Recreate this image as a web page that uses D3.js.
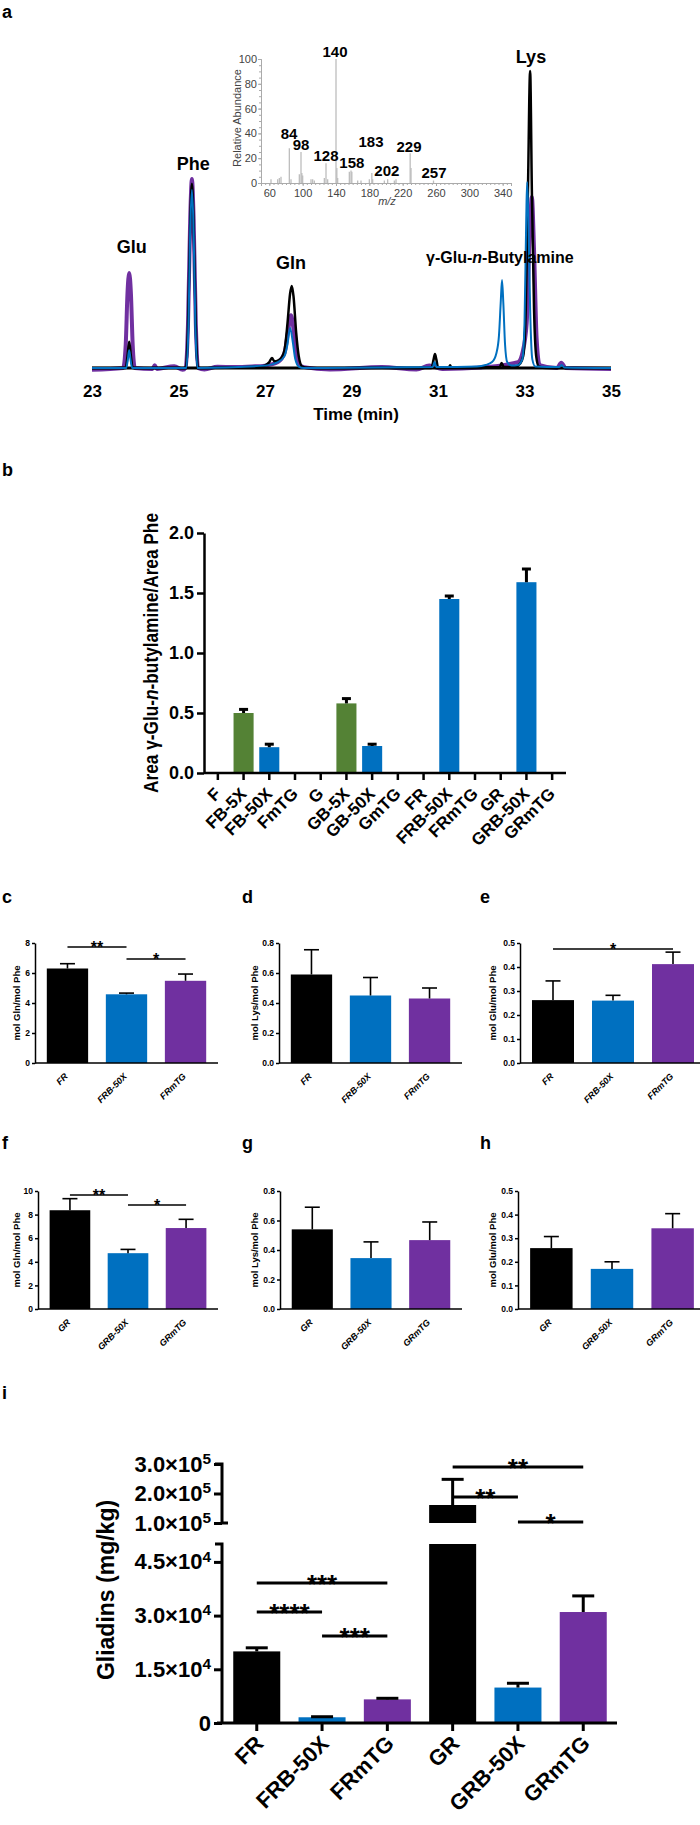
<!DOCTYPE html>
<html>
<head>
<meta charset="utf-8">
<script src="https://cdnjs.cloudflare.com/ajax/libs/d3/7.8.5/d3.min.js"></script>
<style>
  body { margin: 0; background: #fff; }
  svg { display: block; font-family: "Liberation Sans", Arial, sans-serif; font-weight: bold; }
</style>
</head>
<body>
<script>
var cBlack = '#000', cBlue = '#0070c0', cPurple = '#7030a0', cGreen = '#548235';

// ---- panel a: chromatogram, [time (min), relative intensity]
var traceBlack = [[23,0],[23.78,0],[23.82,4],[23.86,8.8],[23.9,4],[23.94,0],[25.17,0],[25.22,14],[25.27,48],[25.31,62],[25.35,48],[25.4,14],[25.45,0],
  [26.9,0.5],[27.1,2],[27.16,3.4],[27.22,2.2],[27.35,3],[27.45,6],[27.52,15],[27.58,25],[27.62,27.6],[27.66,24],[27.72,12],[27.78,4],[27.86,0.5],[28.0,0],
  [30.85,0],[30.9,3],[30.93,4.7],[30.96,3],[31.0,0.3],[31.25,0.2],[31.28,0.9],[31.31,0.2],[32.43,0.3],[32.47,1.7],[32.52,0.3],
  [32.8,0.5],[32.9,1.5],[32.97,4],[33.03,20],[33.08,60],[33.13,100],[33.17,60],[33.22,20],[33.27,4],[33.33,0.5],[33.5,0],[35,0]];
var tracePurple = [[23,-0.6],[23.72,0],[23.78,8],[23.82,25],[23.86,32],[23.9,25],[23.94,8],[23.99,0],[24.4,-0.3],[24.45,0.9],[24.5,-0.3],[24.9,0.6],[25.1,-0.6],
  [25.16,0],[25.22,15],[25.27,50],[25.31,63.6],[25.35,50],[25.4,15],[25.45,0],[25.6,-0.5],[25.9,0.4],[26.3,0.3],[26.7,0.5],
  [27.0,0.8],[27.3,2],[27.45,5],[27.53,12],[27.6,17.8],[27.66,13],[27.72,5],[27.8,1],[27.9,0.3],[28.5,-0.5],[29.7,0.3],[30.5,-0.5],[30.8,0.8],[31.1,-0.3],
  [32.0,0.2],[32.85,2],[32.95,5],[33.05,15],[33.12,45],[33.17,57.6],[33.22,40],[33.28,10],[33.35,1],[33.75,0],[33.85,1.8],[33.95,0],[35,-0.3]];
var traceBlue = [[23,0],[23.79,0],[23.83,3],[23.86,6],[23.89,3],[23.93,0],[25.18,0],[25.23,14],[25.27,46],[25.31,60],[25.35,46],[25.39,14],[25.44,0],
  [27.0,0.8],[27.3,2],[27.45,4],[27.52,8],[27.58,13.5],[27.64,9],[27.7,3],[27.78,0.5],[27.9,0],[30.88,0.3],[30.92,2],[30.96,0.3],
  [31.9,0.5],[32.1,1],[32.25,2],[32.35,5],[32.41,11],[32.45,22],[32.48,29.6],[32.51,22],[32.55,8],[32.6,2],[32.7,0.8],
  [32.85,1],[32.95,3],[33.0,15],[33.04,50],[33.06,62.6],[33.09,50],[33.13,20],[33.18,3],[33.25,0.5],[33.8,0.3],[33.86,1],[33.92,0.2],[35,0]];
var timeTicks = [23, 25, 27, 29, 31, 33, 35];
var peakNames = ['Glu', 'Phe', 'Gln', 'γ-Glu-n-Butylamine', 'Lys'];
var peakLabelTime = [23.92, 25.34, 27.6, 32.43, 33.15];
var peakLabelLevel = [40.7, 68.7, 35.4, 37.4, 104.7];

// inset mass spectrum
var ionMz = [62, 70, 72, 74, 84, 86, 96, 98, 99, 100, 110, 112, 114, 126, 128, 130, 140, 141, 142, 156, 158, 159, 166, 170, 180, 183, 184, 198, 202, 210, 212, 229, 230, 257];
var ionAbund = [3, 3, 4, 5, 28, 3, 7, 25, 8, 6, 3, 3, 2, 4, 16, 3, 100, 12, 4, 9, 10, 9, 2, 2, 3, 8, 3, 2, 3, 2, 3, 24, 12, 2];
var ionLabels = ['140', '84', '98', '128', '158', '183', '202', '229', '257'];
var ionLabelMz = [138.8, 83.6, 98, 128, 159, 182, 201, 227.6, 257.6];
var ionLabelAb = [105.6, 40, 30.6, 21.8, 16, 33, 9.7, 29, 8];

// ---- panel b
var bCats = ['F', 'FB-5X', 'FB-50X', 'FmTG', 'G', 'GB-5X', 'GB-50X', 'GmTG', 'FR', 'FRB-50X', 'FRmTG', 'GR', 'GRB-50X', 'GRmTG'];
var bVals = [0, 0.50, 0.215, 0, 0, 0.58, 0.225, 0, 0, 1.45, 0, 0, 1.59, 0];
var bErr = [0, 0.03, 0.025, 0, 0, 0.04, 0.015, 0, 0, 0.025, 0, 0, 0.11, 0];
var bTicks = [0, 0.5, 1.0, 1.5, 2.0];

// ---- panels c-h
var frCats = ['FR', 'FRB-50X', 'FRmTG'];
var grCats = ['GR', 'GRB-50X', 'GRmTG'];
var glnFR = [6.3, 4.58, 5.48], glnFRErr = [0.32, 0.08, 0.45];
var lysFR = [0.59, 0.45, 0.43], lysFRErr = [0.165, 0.12, 0.07];
var gluFR = [0.262, 0.26, 0.412], gluFRErr = [0.08, 0.022, 0.05];
var glnGR = [8.37, 4.73, 6.86], glnGRErr = [0.98, 0.32, 0.74];
var lysGR = [0.54, 0.345, 0.467], lysGRErr = [0.15, 0.11, 0.123];
var gluGR = [0.258, 0.17, 0.342], gluGRErr = [0.049, 0.03, 0.062];
var tripletColors = [cBlack, cBlue, cPurple];

// ---- panel i
var iCats = ['FR', 'FRB-50X', 'FRmTG', 'GR', 'GRB-50X', 'GRmTG'];
var iVals = [20000, 1600, 6600, 161000, 9900, 31000];
var iErr = [1000, 150, 300, 87000, 1200, 4500];
var iColors = [cBlack, cBlue, cPurple, cBlack, cBlue, cPurple];
var iLowTicks = [0, 15000, 30000, 45000];
var iHighTicks = [100000, 200000, 300000];
// significance bars: [from index, to index, height, stars]
var iSig = [[0, 2, 39100, '***'], [0, 1, 31000, '****'], [1, 2, 24300, '***'], [3, 5, 290000, '**'], [3, 4, 188000, '**'], [4, 5, 103000, '*']];

var svg = d3.select('body').append('svg').attr('width', 700).attr('height', 1825);

function letter(t, x, y) {
  svg.append('text').attr('x', x).attr('y', y).attr('font-size', 18).text(t);
}

// ================= panel a =================
letter('a', 2, 18);
var xA = d3.scaleLinear().domain([23, 35]).range([92, 611]);
var yA = d3.scaleLinear().domain([0, 100]).range([368, 71]);
var lineA = d3.line().x(function (d) { return xA(d[0]); }).y(function (d) { return yA(d[1]); }).curve(d3.curveMonotoneX);

var gA = svg.append('g');
gA.append('path').datum(tracePurple).attr('d', lineA).attr('fill', 'none').attr('stroke', cPurple).attr('stroke-width', 4).attr('stroke-linejoin', 'round');
gA.append('path').datum([[23, 0], [35, 0]]).attr('d', lineA).attr('stroke', cBlack).attr('stroke-width', 3);
gA.append('path').datum(traceBlack).attr('d', lineA).attr('fill', 'none').attr('stroke', cBlack).attr('stroke-width', 2.5).attr('stroke-linejoin', 'round');
gA.append('path').datum(traceBlue).attr('d', lineA).attr('fill', 'none').attr('stroke', cBlue).attr('stroke-width', 2).attr('stroke-linejoin', 'round');

var axA = svg.append('g').attr('transform', 'translate(0,368)')
  .call(d3.axisBottom(xA).tickValues(timeTicks).tickSize(0).tickPadding(17));
axA.select('.domain').remove();
axA.selectAll('text').attr('font-size', 17).attr('font-weight', 'bold').attr('font-family', null);
svg.append('text').attr('x', 356).attr('y', 420).attr('text-anchor', 'middle').attr('font-size', 17).text('Time (min)');

peakNames.forEach(function (n, i) {
  var t = svg.append('text').attr('x', xA(peakLabelTime[i])).attr('y', yA(peakLabelLevel[i])).attr('dy', '0.35em')
    .attr('text-anchor', 'middle').attr('font-size', i === 3 ? 16 : 18);
  if (i === 3) {
    t.append('tspan').text('γ-Glu-');
    t.append('tspan').attr('font-style', 'italic').text('n');
    t.append('tspan').text('-Butylamine');
  } else {
    t.text(n);
  }
});

// inset spectrum
var xI = d3.scaleLinear().domain([50, 350]).range([261, 511]);
var yI = d3.scaleLinear().domain([0, 100]).range([183, 59]);
var gI = svg.append('g');
gI.selectAll('line.ion').data(ionMz).enter().append('line')
  .attr('x1', function (d) { return xI(d); }).attr('x2', function (d) { return xI(d); })
  .attr('y1', yI(0)).attr('y2', function (d, i) { return yI(ionAbund[i]); })
  .attr('stroke', '#bdbdbd').attr('stroke-width', 1.3);

function greyAxis(g) {
  g.select('.domain').attr('stroke', '#aaa');
  g.selectAll('.tick line').attr('stroke', '#aaa');
  g.selectAll('text').attr('font-size', 11).attr('font-weight', 'normal').attr('fill', '#444').attr('font-family', null);
}
var yIMinor = svg.append('g').attr('transform', 'translate(261,0)').call(d3.axisLeft(yI).tickValues(d3.range(0, 101, 5)).tickSize(2).tickFormat(''));
greyAxis(yIMinor);
var yIAx = svg.append('g').attr('transform', 'translate(261,0)').call(d3.axisLeft(yI).tickValues(d3.range(0, 101, 20)).tickSize(3).tickPadding(1));
greyAxis(yIAx);
var xIMinor = svg.append('g').attr('transform', 'translate(0,183)').call(d3.axisBottom(xI).tickValues(d3.range(50, 351, 5)).tickSize(2).tickFormat(''));
greyAxis(xIMinor);
var xIAx = svg.append('g').attr('transform', 'translate(0,183)').call(d3.axisBottom(xI).tickValues(d3.range(60, 341, 40)).tickSize(3).tickPadding(3));
greyAxis(xIAx);
svg.append('text').attr('x', 387).attr('y', 205).attr('text-anchor', 'middle').attr('font-size', 11)
  .attr('font-weight', 'normal').attr('font-style', 'italic').attr('fill', '#444').text('m/z');
svg.append('text').attr('transform', 'translate(241,118) rotate(-90)').attr('text-anchor', 'middle').attr('font-size', 11)
  .attr('font-weight', 'normal').attr('fill', '#444').text('Relative Abundance');
ionLabels.forEach(function (t, i) {
  svg.append('text').attr('x', xI(ionLabelMz[i])).attr('y', yI(ionLabelAb[i])).attr('dy', '0.35em')
    .attr('text-anchor', 'middle').attr('font-size', 15).text(t);
});

// ================= panel b =================
letter('b', 2, 476);
var xB = d3.scaleBand().domain(bCats).range([205, 565]).paddingInner(0.22).paddingOuter(0.11);
var yB = d3.scaleLinear().domain([0, 2]).range([773, 533]);
function bColor(c) { return /-5X/.test(c) ? cGreen : cBlue; }
var barsB = bCats.map(function (c, i) { return { c: c, v: bVals[i], e: bErr[i] }; }).filter(function (d) { return d.v > 0; });
svg.selectAll('rect.b').data(barsB).enter().append('rect')
  .attr('x', function (d) { return xB(d.c); }).attr('width', xB.bandwidth())
  .attr('y', function (d) { return yB(d.v); }).attr('height', function (d) { return yB(0) - yB(d.v); })
  .attr('fill', function (d) { return bColor(d.c); });
barsB.forEach(function (d) {
  var cx = xB(d.c) + xB.bandwidth() / 2;
  svg.append('line').attr('x1', cx).attr('x2', cx).attr('y1', yB(d.v)).attr('y2', yB(d.v + d.e)).attr('stroke', '#000').attr('stroke-width', 3);
  svg.append('line').attr('x1', cx - 4.5).attr('x2', cx + 4.5).attr('y1', yB(d.v + d.e)).attr('y2', yB(d.v + d.e)).attr('stroke', '#000').attr('stroke-width', 3);
});
var yBAx = svg.append('g').attr('transform', 'translate(204,0)')
  .call(d3.axisLeft(yB).tickValues(bTicks).tickFormat(d3.format('.1f')).tickSize(7).tickSizeOuter(0).tickPadding(3));
var xBAx = svg.append('g').attr('transform', 'translate(0,773)')
  .call(d3.axisBottom(xB).tickSize(7).tickSizeOuter(0).tickFormat(''));
xBAx.select('.domain').attr('d', 'M204,0H566');
[yBAx, xBAx].forEach(function (g) {
  g.selectAll('path, line').attr('stroke', '#000').attr('stroke-width', 2.5);
  g.selectAll('text').attr('font-size', 18).attr('font-weight', 'bold').attr('font-family', null).attr('fill', '#000');
});
bCats.forEach(function (c) {
  var x = xB(c) + xB.bandwidth() / 2 + 4;
  svg.append('text').attr('transform', 'translate(' + x + ',795) rotate(-45)').attr('text-anchor', 'end')
    .attr('font-size', 17).text(c);
});
var tb = svg.append('text').attr('transform', 'translate(158,653) rotate(-90)').attr('text-anchor', 'middle')
  .attr('font-size', 21).attr('textLength', 280).attr('lengthAdjust', 'spacingAndGlyphs');
tb.append('tspan').text('Area γ-Glu-');
tb.append('tspan').attr('font-style', 'italic').text('n');
tb.append('tspan').text('-butylamine/Area Phe');

// ================= panels c-h =================
function smallPanel(o) {
  var x = d3.scaleBand().domain(o.cats).range([o.x0, o.x1]).paddingInner(0.3).paddingOuter(0.2);
  var y = d3.scaleLinear().domain([0, o.max]).range([o.y0, o.y1]);
  var g = svg.append('g');
  g.selectAll('rect').data(o.vals).enter().append('rect')
    .attr('x', function (d, i) { return x(o.cats[i]); }).attr('width', x.bandwidth())
    .attr('y', function (d) { return y(d); }).attr('height', function (d) { return y(0) - y(d); })
    .attr('fill', function (d, i) { return tripletColors[i]; });
  o.vals.forEach(function (v, i) {
    var cx = x(o.cats[i]) + x.bandwidth() / 2, top = y(v + o.errs[i]);
    g.append('line').attr('x1', cx).attr('x2', cx).attr('y1', y(v)).attr('y2', top).attr('stroke', '#000').attr('stroke-width', 1.6);
    g.append('line').attr('x1', cx - 7.5).attr('x2', cx + 7.5).attr('y1', top).attr('y2', top).attr('stroke', '#000').attr('stroke-width', 1.6);
  });
  var ay = g.append('g').attr('transform', 'translate(' + o.x0 + ',0)')
    .call(d3.axisLeft(y).tickValues(o.ticks).tickFormat(d3.format(o.fmt)).tickSize(3).tickSizeOuter(0).tickPadding(2));
  ay.selectAll('path, line').attr('stroke', '#000').attr('stroke-width', 1.5);
  ay.selectAll('text').attr('font-size', 8.5).attr('font-weight', 'bold').attr('font-family', null).attr('fill', '#000');
  g.append('line').attr('x1', o.x0).attr('x2', o.x1).attr('y1', o.y0).attr('y2', o.y0).attr('stroke', '#000').attr('stroke-width', 1.5);
  o.cats.forEach(function (c) {
    var cx = x(c) + x.bandwidth() / 2 + 1;
    g.append('text').attr('transform', 'translate(' + cx + ',' + (o.y0 + 14) + ') rotate(-45)').attr('text-anchor', 'end')
      .attr('font-size', 9).attr('font-style', 'italic').text(c);
  });
  g.append('text').attr('transform', 'translate(' + o.lx + ',' + ((o.y0 + o.y1) / 2) + ') rotate(-90)')
    .attr('text-anchor', 'middle').attr('font-size', 9.5).text(o.label);
  (o.sig || []).forEach(function (s) {
    var xa = x(o.cats[s[0]]) + x.bandwidth() / 2, xb = x(o.cats[s[1]]) + x.bandwidth() / 2, yy = y(s[2]);
    g.append('line').attr('x1', xa).attr('x2', xb).attr('y1', yy).attr('y2', yy).attr('stroke', '#000').attr('stroke-width', 1.5);
    g.append('text').attr('x', (xa + xb) / 2).attr('y', yy + 6).attr('text-anchor', 'middle').attr('font-size', 16).text(s[3]);
  });
}

letter('c', 2, 903); letter('d', 242, 903); letter('e', 480, 903);
letter('f', 2, 1149); letter('g', 242, 1149); letter('h', 480, 1149);

smallPanel({ cats: frCats, vals: glnFR, errs: glnFRErr, x0: 35, x1: 218, y0: 1063, y1: 943, max: 8, ticks: [0, 2, 4, 6, 8], fmt: 'd',
  lx: 20, label: 'mol Gln/mol Phe', sig: [[0, 1, 7.73, '**'], [1, 2, 6.93, '*']] });
smallPanel({ cats: frCats, vals: lysFR, errs: lysFRErr, x0: 279, x1: 462, y0: 1063, y1: 943, max: 0.8, ticks: [0, 0.2, 0.4, 0.6, 0.8], fmt: '.1f',
  lx: 258, label: 'mol Lys/mol Phe' });
smallPanel({ cats: frCats, vals: gluFR, errs: gluFRErr, x0: 520, x1: 706, y0: 1063, y1: 943, max: 0.5, ticks: [0, 0.1, 0.2, 0.3, 0.4, 0.5], fmt: '.1f',
  lx: 496, label: 'mol Glu/mol Phe', sig: [[0, 2, 0.475, '*']] });
smallPanel({ cats: grCats, vals: glnGR, errs: glnGRErr, x0: 38, x1: 218, y0: 1309, y1: 1191, max: 10, ticks: [0, 2, 4, 6, 8, 10], fmt: 'd',
  lx: 20, label: 'mol Gln/mol Phe', sig: [[0, 1, 9.66, '**'], [1, 2, 8.81, '*']] });
smallPanel({ cats: grCats, vals: lysGR, errs: lysGRErr, x0: 280, x1: 462, y0: 1309, y1: 1191, max: 0.8, ticks: [0, 0.2, 0.4, 0.6, 0.8], fmt: '.1f',
  lx: 258, label: 'mol Lys/mol Phe' });
smallPanel({ cats: grCats, vals: gluGR, errs: gluGRErr, x0: 518, x1: 706, y0: 1309, y1: 1191, max: 0.5, ticks: [0, 0.1, 0.2, 0.3, 0.4, 0.5], fmt: '.1f',
  lx: 496, label: 'mol Glu/mol Phe' });

// ================= panel i =================
letter('i', 2, 1399);
var xI2 = d3.scaleBand().domain(iCats).range([223, 617]).paddingInner(0.28).paddingOuter(0.157);
var yLow = d3.scaleLinear().domain([0, 50000]).range([1723, 1544]);
var yHigh = d3.scaleLinear().domain([100000, 300000]).range([1523, 1464]);
function yAny(v) { return v <= 50000 ? yLow(v) : yHigh(v); }

iCats.forEach(function (c, i) {
  var x = xI2(c), w = xI2.bandwidth(), v = iVals[i];
  svg.append('rect').attr('x', x).attr('width', w).attr('y', yLow(Math.min(v, 50000))).attr('height', yLow(0) - yLow(Math.min(v, 50000)))
    .attr('fill', iColors[i]);
  if (v > 100000) {
    svg.append('rect').attr('x', x).attr('width', w).attr('y', yHigh(v)).attr('height', yHigh(100000) - yHigh(v)).attr('fill', iColors[i]);
  }
  var cx = x + w / 2, top = yAny(v + iErr[i]);
  svg.append('line').attr('x1', cx).attr('x2', cx).attr('y1', yAny(v)).attr('y2', top).attr('stroke', '#000').attr('stroke-width', 3);
  svg.append('line').attr('x1', cx - 11).attr('x2', cx + 11).attr('y1', top).attr('y2', top).attr('stroke', '#000').attr('stroke-width', 3);
});

function sciLabels(g) {
  g.selectAll('.tick text').each(function (v) {
    var t = d3.select(this).text(null);
    if (v === 0) { t.text('0'); return; }
    var e = Math.floor(Math.log10(v) + 1e-9), m = v / Math.pow(10, e);
    t.append('tspan').text(m.toFixed(1) + '×10');
    t.append('tspan').attr('dy', '-0.5em').attr('font-size', '0.7em').text(e);
  });
}
var axLow = svg.append('g').attr('transform', 'translate(222,0)')
  .call(d3.axisLeft(yLow).tickValues(iLowTicks).tickSize(8).tickSizeOuter(7).tickPadding(3));
var axHigh = svg.append('g').attr('transform', 'translate(222,0)')
  .call(d3.axisLeft(yHigh).tickValues(iHighTicks).tickSize(8).tickSizeOuter(7).tickPadding(3));
svg.append('line').attr('x1', 222).attr('x2', 228).attr('y1', yHigh(100000)).attr('y2', yHigh(100000)).attr('stroke', '#000').attr('stroke-width', 3);
var axIX = svg.append('g').attr('transform', 'translate(0,1723)')
  .call(d3.axisBottom(xI2).tickSize(8).tickSizeOuter(0).tickFormat(''));
axIX.select('.domain').attr('d', 'M217,0H617');
[axLow, axHigh, axIX].forEach(function (g) {
  g.selectAll('path, line').attr('stroke', '#000').attr('stroke-width', 3);
  g.selectAll('text').attr('font-size', 22).attr('font-weight', 'bold').attr('font-family', null).attr('fill', '#000');
});
sciLabels(axLow); sciLabels(axHigh);
// keep each axis segment only between its break marks
axLow.select('.domain').attr('d', 'M-7,' + yLow(50000) + 'H0V' + yLow(0));
axHigh.select('.domain').attr('d', 'M-7,' + yHigh(300000) + 'H0V' + yHigh(100000));

iCats.forEach(function (c) {
  var x = xI2(c) + xI2.bandwidth() / 2 + 8;
  svg.append('text').attr('transform', 'translate(' + x + ',1745) rotate(-45)').attr('text-anchor', 'end')
    .attr('font-size', 22).text(c);
});
svg.append('text').attr('transform', 'translate(114,1590) rotate(-90)').attr('text-anchor', 'middle').attr('font-size', 23).text('Gliadins (mg/kg)');

iSig.forEach(function (s) {
  var xa = xI2(iCats[s[0]]) + xI2.bandwidth() / 2, xb = xI2(iCats[s[1]]) + xI2.bandwidth() / 2, yy = yAny(s[2]);
  svg.append('line').attr('x1', xa).attr('x2', xb).attr('y1', yy).attr('y2', yy).attr('stroke', '#000').attr('stroke-width', 3);
  svg.append('text').attr('x', (xa + xb) / 2).attr('y', yy + 10).attr('text-anchor', 'middle').attr('font-size', 26).text(s[3]);
});
</script>
</body>
</html>
